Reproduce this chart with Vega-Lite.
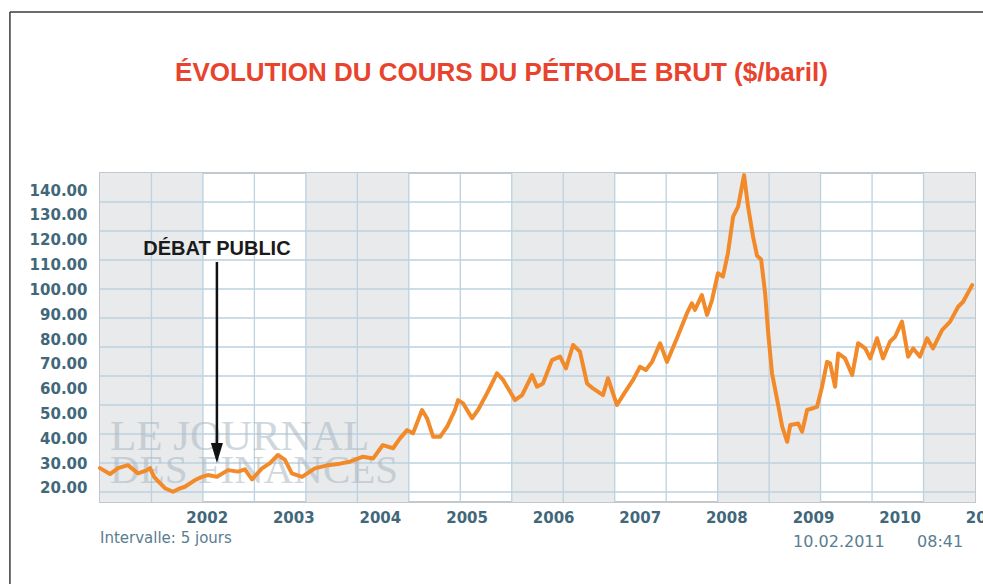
{
  "$schema": "https://vega.github.io/schema/vega-lite/v6.json",
  "width": 875,
  "height": 329,
  "autosize": {"type": "none"},
  "padding": {"left": 100, "top": 173, "right": 8, "bottom": 82},
  "background": "white",
  "config": {"view": {"stroke": "#c3c8cc", "strokeWidth": 2}, "font": "DejaVu Sans", "axis": {"labelOverlap": false}},
  "title": {
    "text": "ÉVOLUTION DU COURS DU PÉTROLE BRUT ($/baril)",
    "font": "Liberation Sans",
    "fontSize": 26,
    "fontWeight": "bold",
    "color": "#e8432d",
    "anchor": "middle",
    "frame": "group",
    "dx": -36,
    "offset": -75
  },
  "datasets": {
    "bandes": [{"c0": 0, "c1": 2}, {"c0": 4, "c1": 6}, {"c0": 8, "c1": 10}, {"c0": 12, "c1": 14}, {"c0": 16, "c1": 17}],
    "colonnes": [{"c": 1}, {"c": 2}, {"c": 3}, {"c": 4}, {"c": 5}, {"c": 6}, {"c": 7}, {"c": 8}, {"c": 9}, {"c": 10}, {"c": 11}, {"c": 12}, {"c": 13}, {"c": 14}, {"c": 15}, {"c": 16}],
    "lignes": [{"r": 0.345}, {"r": 1.345}, {"r": 2.345}, {"r": 3.345}, {"r": 4.345}, {"r": 5.345}, {"r": 6.345}, {"r": 7.345}, {"r": 8.345}, {"r": 9.345}, {"r": 10.345}],
    "filigrane": [{"texte": "LE JOURNAL", "c": 0.194, "r": 1.793, "taille": 43}, {"texte": "DES FINANCES", "c": 0.194, "r": 0.655, "taille": 41}],
    "prix": [
      {"date": "2001-01-04", "prix": 28.0},
      {"date": "2001-02-15", "prix": 25.6},
      {"date": "2001-03-21", "prix": 28.0},
      {"date": "2001-05-02", "prix": 29.2},
      {"date": "2001-06-13", "prix": 25.9},
      {"date": "2001-07-17", "prix": 27.0},
      {"date": "2001-08-03", "prix": 28.0},
      {"date": "2001-08-20", "prix": 24.5},
      {"date": "2001-09-14", "prix": 22.0},
      {"date": "2001-10-05", "prix": 19.9},
      {"date": "2001-11-08", "prix": 18.5},
      {"date": "2001-11-29", "prix": 19.5},
      {"date": "2001-12-28", "prix": 20.5},
      {"date": "2002-02-09", "prix": 23.2},
      {"date": "2002-03-10", "prix": 24.5},
      {"date": "2002-04-04", "prix": 25.2},
      {"date": "2002-05-12", "prix": 24.5},
      {"date": "2002-06-28", "prix": 27.2},
      {"date": "2002-08-09", "prix": 26.6},
      {"date": "2002-09-07", "prix": 27.5},
      {"date": "2002-10-07", "prix": 23.5},
      {"date": "2002-11-18", "prix": 27.9},
      {"date": "2002-12-22", "prix": 30.0},
      {"date": "2003-01-24", "prix": 33.3},
      {"date": "2003-02-23", "prix": 31.3},
      {"date": "2003-03-24", "prix": 25.9},
      {"date": "2003-05-06", "prix": 24.5},
      {"date": "2003-06-29", "prix": 27.9},
      {"date": "2003-08-23", "prix": 29.2},
      {"date": "2003-10-13", "prix": 29.8},
      {"date": "2003-11-24", "prix": 30.6},
      {"date": "2004-01-18", "prix": 32.6},
      {"date": "2004-03-01", "prix": 31.9},
      {"date": "2004-04-11", "prix": 37.3},
      {"date": "2004-05-24", "prix": 36.0},
      {"date": "2004-06-22", "prix": 40.0},
      {"date": "2004-07-22", "prix": 43.3},
      {"date": "2004-08-16", "prix": 42.0},
      {"date": "2004-09-23", "prix": 51.4},
      {"date": "2004-10-14", "prix": 48.1},
      {"date": "2004-11-09", "prix": 40.6},
      {"date": "2004-12-08", "prix": 40.6},
      {"date": "2005-01-07", "prix": 44.7},
      {"date": "2005-02-09", "prix": 51.4},
      {"date": "2005-02-22", "prix": 55.4},
      {"date": "2005-03-15", "prix": 54.1},
      {"date": "2005-04-22", "prix": 48.1},
      {"date": "2005-05-17", "prix": 51.4},
      {"date": "2005-06-24", "prix": 58.1},
      {"date": "2005-08-05", "prix": 66.2},
      {"date": "2005-08-31", "prix": 63.5},
      {"date": "2005-10-20", "prix": 55.4},
      {"date": "2005-11-19", "prix": 57.4},
      {"date": "2005-12-31", "prix": 65.5},
      {"date": "2006-01-21", "prix": 60.8},
      {"date": "2006-02-15", "prix": 62.1},
      {"date": "2006-03-25", "prix": 71.5},
      {"date": "2006-04-28", "prix": 72.9},
      {"date": "2006-05-23", "prix": 68.2},
      {"date": "2006-06-22", "prix": 77.6},
      {"date": "2006-07-21", "prix": 74.9},
      {"date": "2006-08-20", "prix": 62.1},
      {"date": "2006-09-14", "prix": 60.1},
      {"date": "2006-10-26", "prix": 57.4},
      {"date": "2006-11-16", "prix": 64.2},
      {"date": "2006-12-24", "prix": 53.4},
      {"date": "2007-01-23", "prix": 58.0},
      {"date": "2007-03-02", "prix": 63.5},
      {"date": "2007-03-31", "prix": 68.8},
      {"date": "2007-04-25", "prix": 67.5},
      {"date": "2007-05-21", "prix": 70.8},
      {"date": "2007-06-24", "prix": 78.3},
      {"date": "2007-07-23", "prix": 70.8},
      {"date": "2007-09-03", "prix": 80.3},
      {"date": "2007-10-15", "prix": 90.3},
      {"date": "2007-11-05", "prix": 94.4},
      {"date": "2007-11-18", "prix": 91.7},
      {"date": "2007-12-17", "prix": 97.7},
      {"date": "2008-01-08", "prix": 89.7},
      {"date": "2008-01-29", "prix": 95.7},
      {"date": "2008-02-23", "prix": 106.5},
      {"date": "2008-03-15", "prix": 105.1},
      {"date": "2008-04-05", "prix": 114.5},
      {"date": "2008-04-27", "prix": 129.3},
      {"date": "2008-05-18", "prix": 133.3},
      {"date": "2008-06-12", "prix": 146.0},
      {"date": "2008-06-29", "prix": 133.3},
      {"date": "2008-07-20", "prix": 121.2},
      {"date": "2008-08-06", "prix": 113.5},
      {"date": "2008-08-23", "prix": 112.0},
      {"date": "2008-09-09", "prix": 98.4},
      {"date": "2008-09-22", "prix": 82.3},
      {"date": "2008-10-08", "prix": 66.2},
      {"date": "2008-10-30", "prix": 55.4},
      {"date": "2008-11-20", "prix": 44.7},
      {"date": "2008-12-11", "prix": 38.6},
      {"date": "2008-12-24", "prix": 45.4},
      {"date": "2009-01-26", "prix": 46.0},
      {"date": "2009-02-12", "prix": 42.7},
      {"date": "2009-03-05", "prix": 51.4},
      {"date": "2009-04-16", "prix": 52.7},
      {"date": "2009-05-07", "prix": 60.8},
      {"date": "2009-05-28", "prix": 70.8},
      {"date": "2009-06-10", "prix": 70.2},
      {"date": "2009-07-01", "prix": 60.8},
      {"date": "2009-07-14", "prix": 74.2},
      {"date": "2009-08-12", "prix": 72.2},
      {"date": "2009-09-11", "prix": 65.5},
      {"date": "2009-10-06", "prix": 78.3},
      {"date": "2009-11-05", "prix": 76.2},
      {"date": "2009-11-26", "prix": 72.2},
      {"date": "2009-12-25", "prix": 80.3},
      {"date": "2010-01-19", "prix": 72.2},
      {"date": "2010-02-18", "prix": 79.0},
      {"date": "2010-03-11", "prix": 80.9},
      {"date": "2010-04-09", "prix": 87.0},
      {"date": "2010-05-05", "prix": 72.9},
      {"date": "2010-05-26", "prix": 76.2},
      {"date": "2010-06-24", "prix": 72.9},
      {"date": "2010-07-24", "prix": 80.3},
      {"date": "2010-08-18", "prix": 76.2},
      {"date": "2010-09-25", "prix": 83.6},
      {"date": "2010-10-29", "prix": 87.0},
      {"date": "2010-12-02", "prix": 93.0},
      {"date": "2010-12-23", "prix": 95.0},
      {"date": "2011-01-30", "prix": 101.7}
    ]
  },
  "layer": [
    {
      "layer": [
        {
          "data": {"name": "bandes"},
          "mark": {"type": "rect", "color": "#e8eaec"},
          "encoding": {
            "x": {"field": "c0", "type": "quantitative", "scale": {"domain": [0, 17], "nice": false, "zero": false}, "axis": null},
            "x2": {"field": "c1"}
          }
        },
        {
          "data": {"name": "colonnes"},
          "mark": {"type": "rule", "color": "#bcd2e0", "strokeWidth": 1.3},
          "encoding": {
            "x": {"field": "c", "type": "quantitative", "axis": null}
          }
        },
        {
          "data": {"name": "lignes"},
          "mark": {"type": "rule", "color": "#bcd2e0", "strokeWidth": 1.3},
          "encoding": {
            "y": {"field": "r", "type": "quantitative", "scale": {"domain": [0, 11.345], "nice": false, "zero": false}, "axis": null}
          }
        },
        {
          "data": {"name": "filigrane"},
          "mark": {"type": "text", "font": "Liberation Serif", "color": "#a9b8c2", "opacity": 0.55, "align": "left", "baseline": "alphabetic"},
          "encoding": {
            "text": {"field": "texte"},
            "x": {"field": "c", "type": "quantitative"},
            "y": {"field": "r", "type": "quantitative"},
            "size": {"field": "taille", "type": "quantitative", "scale": null}
          }
        },
        {
          "data": {"values": [{}]},
          "mark": {"type": "rule", "color": "#3a3a3a", "strokeWidth": 1.5},
          "encoding": {
            "x": {"datum": -1.75, "type": "quantitative"},
            "x2": {"datum": 17.4},
            "y": {"datum": 16.9, "type": "quantitative"}
          }
        },
        {
          "data": {"values": [{}]},
          "mark": {"type": "rule", "color": "#3a3a3a", "strokeWidth": 1.5},
          "encoding": {
            "x": {"datum": -1.75, "type": "quantitative"},
            "y": {"datum": 16.9, "type": "quantitative"},
            "y2": {"datum": -3.2}
          }
        }
      ]
    },
    {
      "data": {"name": "prix"},
      "layer": [
        {
          "mark": {"type": "line", "color": "#f28a2a", "strokeWidth": 4, "strokeJoin": "round", "strokeCap": "round"},
          "encoding": {
            "x": {
              "field": "date",
              "type": "temporal",
              "scale": {"domain": [{"year": 2001, "month": 1, "date": 4}, {"year": 2011, "month": 2, "date": 11}]},
              "axis": {
                "orient": "bottom",
                "title": null,
                "values": [
                  {"year": 2002, "month": 1, "date": 1}, {"year": 2003, "month": 1, "date": 1}, {"year": 2004, "month": 1, "date": 1},
                  {"year": 2005, "month": 1, "date": 1}, {"year": 2006, "month": 1, "date": 1}, {"year": 2007, "month": 1, "date": 1},
                  {"year": 2008, "month": 1, "date": 1}, {"year": 2009, "month": 1, "date": 1}, {"year": 2010, "month": 1, "date": 1},
                  {"year": 2011, "month": 1, "date": 1}
                ],
                "format": "%Y",
                "labelAlign": "left",
                "labelFlush": false,
                "labelOverlap": false,
                "labelBound": false,
                "ticks": false,
                "domain": false,
                "grid": false,
                "labelPadding": 8,
                "labelFont": "DejaVu Sans",
                "labelFontWeight": "bold",
                "labelFontSize": 15,
                "labelColor": "#41687a"
              }
            },
            "y": {
              "field": "prix",
              "type": "quantitative",
              "scale": {"domain": [14.36, 146.85], "nice": false, "zero": false},
              "axis": {
                "orient": "left",
                "title": null,
                "values": [20, 30, 40, 50, 60, 70, 80, 90, 100, 110, 120, 130, 140],
                "tickCount": 13,
                "format": ".2f",
                "labelOverlap": false,
                "labelSeparation": 0,
                "labelFlush": false,
                "ticks": false,
                "domain": false,
                "grid": false,
                "labelPadding": 13,
                "labelFont": "DejaVu Sans",
                "labelFontWeight": "bold",
                "labelFontSize": 15,
                "labelColor": "#41687a"
              }
            }
          }
        },
        {
          "data": {"values": [{}]},
          "mark": {"type": "rule", "color": "#111111", "strokeWidth": 2.5},
          "encoding": {
            "x": {"datum": {"year": 2002, "month": 5, "date": 12}, "type": "temporal"},
            "y": {"datum": 111, "type": "quantitative"},
            "y2": {"datum": 35}
          }
        },
        {
          "data": {"values": [{}]},
          "mark": {"type": "point", "shape": "M-0.6,-1L0.6,-1L0,1Z", "size": 400, "filled": true, "color": "#111111", "opacity": 1},
          "encoding": {
            "x": {"datum": {"year": 2002, "month": 5, "date": 12}, "type": "temporal"},
            "y": {"datum": 34.1, "type": "quantitative"}
          }
        },
        {
          "data": {"values": [{}]},
          "mark": {"type": "text", "font": "Liberation Sans", "fontWeight": "bold", "fontSize": 20, "color": "#1a1a1a", "align": "center", "baseline": "middle"},
          "encoding": {
            "text": {"value": "DÉBAT PUBLIC"},
            "x": {"datum": {"year": 2002, "month": 5, "date": 12}, "type": "temporal"},
            "y": {"datum": 116.2, "type": "quantitative"}
          }
        },
        {
          "data": {"values": [{}]},
          "mark": {"type": "text", "font": "DejaVu Sans", "fontSize": 15, "color": "#5a7d8f", "align": "left", "baseline": "middle"},
          "encoding": {
            "text": {"value": "Intervalle: 5 jours"},
            "x": {"datum": {"year": 2001, "month": 1, "date": 4}, "type": "temporal"},
            "y": {"datum": -0.15, "type": "quantitative"}
          }
        },
        {
          "data": {"values": [{}]},
          "mark": {"type": "text", "font": "DejaVu Sans", "fontSize": 16, "color": "#5a7d8f", "align": "left", "baseline": "middle"},
          "encoding": {
            "text": {"value": "10.02.2011"},
            "x": {"datum": {"year": 2009, "month": 1, "date": 5}, "type": "temporal"},
            "y": {"datum": -1.76, "type": "quantitative"}
          }
        },
        {
          "data": {"values": [{}]},
          "mark": {"type": "text", "font": "DejaVu Sans", "fontSize": 16, "color": "#5a7d8f", "align": "right", "baseline": "middle"},
          "encoding": {
            "text": {"value": "08:41"},
            "x": {"datum": {"year": 2010, "month": 12, "date": 23}, "type": "temporal"},
            "y": {"datum": -1.76, "type": "quantitative"}
          }
        }
      ]
    }
  ],
  "resolve": {"scale": {"x": "independent", "y": "independent"}}
}
